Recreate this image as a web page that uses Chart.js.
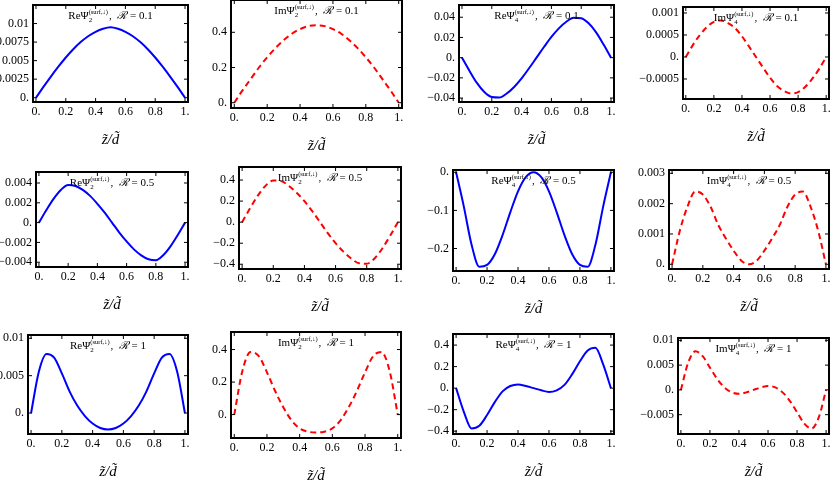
<!DOCTYPE html>
<html>
<head>
<meta charset="utf-8">
<script src="https://cdn.jsdelivr.net/npm/chart.js@4.4.0/dist/chart.umd.min.js"></script>
<style>
  html, body { margin: 0; padding: 0; background: #fff; width: 830px; height: 481px; overflow: hidden; position: relative; }
  canvas { position: absolute; }
</style>
</head>
<body>
<script>
// z/d grid shared by every panel
const zGrid = [0, 0.05, 0.1, 0.15, 0.2, 0.25, 0.3, 0.35, 0.4, 0.45, 0.5,
  0.55, 0.6, 0.65, 0.7, 0.75, 0.8, 0.85, 0.9, 0.95, 1];
const xTicks = [0, 0.2, 0.4, 0.6, 0.8, 1];
const xTickLabels = ["0.", "0.2", "0.4", "0.6", "0.8", "1."];

// R = 0.1
const reTwoLow = [0, 0.00145, 0.00285, 0.00418, 0.00542, 0.00653, 0.0075, 0.00829, 0.00889, 0.0093, 0.0095,
  0.0093, 0.00889, 0.00829, 0.0075, 0.00653, 0.00542, 0.00418, 0.00285, 0.00145, 0];
const imTwoLow = [0, 0.07, 0.135, 0.2, 0.258, 0.31, 0.355, 0.392, 0.418, 0.435, 0.44,
  0.435, 0.418, 0.392, 0.355, 0.31, 0.258, 0.2, 0.135, 0.07, 0];
const reFourLow = [0, -0.013, -0.025, -0.034, -0.039, -0.0395, -0.0355, -0.029, -0.0205, -0.0105, 0,
  0.0105, 0.0205, 0.029, 0.0355, 0.0395, 0.039, 0.034, 0.025, 0.013, 0];
const imFourLow = [0, 0.00027, 0.0005, 0.00068, 0.0008, 0.00083, 0.00077, 0.00066, 0.00047, 0.00024, 0,
  -0.00024, -0.00047, -0.00066, -0.00077, -0.00083, -0.0008, -0.00068, -0.0005, -0.00027, 0];

// R = 0.5
const reTwoMid = [0, 0.00125, 0.0024, 0.0033, 0.0038, 0.0037, 0.0033, 0.0027, 0.0019, 0.001, 0,
  -0.001, -0.0019, -0.0027, -0.0033, -0.0037, -0.0038, -0.0033, -0.0024, -0.00125, 0];
const imTwoMid = [0, 0.13, 0.25, 0.345, 0.395, 0.39, 0.345, 0.28, 0.2, 0.105, 0,
  -0.105, -0.2, -0.28, -0.345, -0.39, -0.395, -0.345, -0.25, -0.13, 0];
const reFourMid = [0, -0.09, -0.19, -0.248, -0.243, -0.215, -0.165, -0.105, -0.05, -0.013, 0,
  -0.013, -0.05, -0.105, -0.165, -0.215, -0.243, -0.248, -0.19, -0.09, 0];
const imFourMid = [0, 0.0011, 0.0019, 0.0024, 0.0023, 0.0019, 0.0013, 0.00085, 0.00045, 0.00012, 0,
  0.00012, 0.00045, 0.00085, 0.0013, 0.0019, 0.0023, 0.0024, 0.0019, 0.0011, 0];

// R = 1
const reTwoHigh = [0, 0.0055, 0.0079, 0.0074, 0.0053, 0.0029, 0.001, -0.0004, -0.0014, -0.002, -0.0022,
  -0.002, -0.0014, -0.0004, 0.001, 0.0029, 0.0053, 0.0074, 0.0079, 0.0055, 0];
const imTwoHigh = [0, 0.27, 0.385, 0.36, 0.26, 0.145, 0.045, -0.035, -0.085, -0.105, -0.11,
  -0.105, -0.085, -0.035, 0.045, 0.145, 0.26, 0.36, 0.385, 0.27, 0];
const reFourHigh = [0, -0.22, -0.375, -0.35, -0.25, -0.13, -0.03, 0.02, 0.035, 0.02, 0,
  -0.02, -0.035, -0.02, 0.03, 0.13, 0.25, 0.35, 0.375, 0.22, 0];
const imFourHigh = [0, 0.0055, 0.0078, 0.0068, 0.0045, 0.0022, 0.0005, -0.0005, -0.0008, -0.0005, 0,
  0.0005, 0.0008, 0.0005, -0.0005, -0.0022, -0.0045, -0.0068, -0.0078, -0.0055, 0];

// y ticks per panel
const ticksA = [0, 0.0025, 0.005, 0.0075, 0.01];
const labelsA = ["0.", "0.0025", "0.005", "0.0075", "0.01"];
const ticksB = [0, 0.2, 0.4];
const labelsB = ["0.", "0.2", "0.4"];
const ticksC = [-0.04, -0.02, 0, 0.02, 0.04];
const labelsC = ["\u22120.04", "\u22120.02", "0.", "0.02", "0.04"];
const ticksD = [-0.0005, 0, 0.0005, 0.001];
const labelsD = ["\u22120.0005", "0.", "0.0005", "0.001"];
const ticksE = [-0.004, -0.002, 0, 0.002, 0.004];
const labelsE = ["\u22120.004", "\u22120.002", "0.", "0.002", "0.004"];
const ticksF = [-0.4, -0.2, 0, 0.2, 0.4];
const labelsF = ["\u22120.4", "\u22120.2", "0.", "0.2", "0.4"];
const ticksG = [-0.2, -0.1, 0];
const labelsG = ["\u22120.2", "\u22120.1", "0."];
const ticksH = [0, 0.001, 0.002, 0.003];
const labelsH = ["0.", "0.001", "0.002", "0.003"];
const ticksI = [0, 0.005, 0.01];
const labelsI = ["0.", "0.005", "0.01"];
const ticksJ = [-0.005, 0, 0.005, 0.01];
const labelsJ = ["\u22120.005", "0.", "0.005", "0.01"];

const BLUE = "#0000ff";
const RED = "#ff0000";
const YW = 70, XH = 50, PAD_T = 8, PAD_R = 10;
const SERIF = "'Liberation Serif', 'DejaVu Serif', serif";

// frame box [left, top, right, bottom] and y range of each panel
const panels = [
  { part: "Re", n: "2", r: "0.1", data: reTwoLow, box: [33, 5, 188, 102], yr: [-0.00058, 0.0125], yt: ticksA, yl: labelsA },
  { part: "Im", n: "2", r: "0.1", data: imTwoLow, box: [231, 0, 402, 108], yr: [-0.03, 0.5835], yt: ticksB, yl: labelsB },
  { part: "Re", n: "4", r: "0.1", data: reFourLow, box: [459, 5, 614, 102], yr: [-0.0439, 0.0521], yt: ticksC, yl: labelsC },
  { part: "Im", n: "4", r: "0.1", data: imFourLow, box: [683, 7, 829, 99], yr: [-0.000955, 0.001136], yt: ticksD, yl: labelsD },
  { part: "Re", n: "2", r: "0.5", data: reTwoMid, box: [36, 172, 188, 267], yr: [-0.00448, 0.00511], yt: ticksE, yl: labelsE },
  { part: "Im", n: "2", r: "0.5", data: imTwoMid, box: [239, 167, 401, 269], yr: [-0.445, 0.524], yt: ticksF, yl: labelsF },
  { part: "Re", n: "4", r: "0.5", data: reFourMid, box: [453, 170, 614, 271], yr: [-0.259, 0.006], yt: ticksG, yl: labelsG },
  { part: "Im", n: "4", r: "0.5", data: imFourMid, box: [669, 170, 829, 269], yr: [-0.000155, 0.00311], yt: ticksH, yl: labelsH },
  { part: "Re", n: "2", r: "1", data: reTwoHigh, box: [28, 335, 188, 434], yr: [-0.0028, 0.01044], yt: ticksI, yl: labelsI },
  { part: "Im", n: "2", r: "1", data: imTwoHigh, box: [231, 332, 401, 438], yr: [-0.144, 0.508], yt: ticksB, yl: labelsB },
  { part: "Re", n: "4", r: "1", data: reFourHigh, box: [453, 334, 614, 434], yr: [-0.426, 0.503], yt: ticksF, yl: labelsF },
  { part: "Im", n: "4", r: "1", data: imFourHigh, box: [678, 338, 829, 434], yr: [-0.0089, 0.01047], yt: ticksJ, yl: labelsJ },
];

function drawPanelTitle(ctx, area, p) {
  const main = "11px " + SERIF;
  const small = "7px " + SERIF;
  const tiny = "6.5px " + SERIF;
  const head = p.part + "\u03A8";
  const tail = ",  ";
  const rest = " = " + p.r;
  ctx.font = main;
  const wHead = ctx.measureText(head).width;
  const wTail = ctx.measureText(tail).width;
  const wRest = ctx.measureText(rest).width;
  ctx.font = "italic " + main;
  const wR = ctx.measureText("\u211B").width;
  ctx.font = tiny;
  const wSup = ctx.measureText("(surf,\u2193)").width;
  const total = wHead + wSup + 1 + wTail + wR + wRest;
  let x = (area.left + area.right) / 2 - total / 2;
  const y = area.top + 14;
  ctx.fillStyle = "#000";
  ctx.textAlign = "left";
  ctx.textBaseline = "alphabetic";
  ctx.font = main;
  ctx.fillText(head, x, y);
  x += wHead;
  ctx.font = small;
  ctx.fillText(p.n, x, y + 3);
  ctx.font = tiny;
  ctx.fillText("(surf,\u2193)", x, y - 5);
  x += wSup + 1;
  ctx.font = main;
  ctx.fillText(tail, x, y);
  x += wTail;
  ctx.font = "italic " + main;
  ctx.fillText("\u211B", x, y);
  x += wR;
  ctx.font = main;
  ctx.fillText(rest, x, y);
}

const framePlugin = {
  id: "frame",
  afterDatasetsDraw(chart, args, opts) {
    const { ctx, chartArea: a, scales: { x, y } } = chart;
    const p = opts.panel;
    ctx.save();
    ctx.strokeStyle = "#000";
    ctx.lineWidth = 1;
    ctx.beginPath();
    xTicks.forEach((v) => {
      const px = x.getPixelForValue(v);
      ctx.moveTo(px, a.bottom); ctx.lineTo(px, a.bottom - 4);
      ctx.moveTo(px, a.top); ctx.lineTo(px, a.top + 4);
    });
    p.yt.forEach((v) => {
      const py = y.getPixelForValue(v);
      ctx.moveTo(a.left, py); ctx.lineTo(a.left + 4, py);
      ctx.moveTo(a.right, py); ctx.lineTo(a.right - 4, py);
    });
    ctx.stroke();
    ctx.lineWidth = 2;
    ctx.strokeRect(a.left, a.top, a.right - a.left, a.bottom - a.top);
    drawPanelTitle(ctx, a, p);
    ctx.restore();
  },
};

panels.forEach((p) => {
  const [L, T, R, B] = p.box;
  const canvas = document.createElement("canvas");
  const w = R - L + YW + PAD_R;
  const h = B - T + PAD_T + XH;
  canvas.width = w;
  canvas.height = h;
  canvas.style.left = (L - YW) + "px";
  canvas.style.top = (T - PAD_T) + "px";
  canvas.style.width = w + "px";
  canvas.style.height = h + "px";
  document.body.appendChild(canvas);

  const isIm = p.part === "Im";
  new Chart(canvas.getContext("2d"), {
    type: "line",
    data: {
      datasets: [
        {
          data: zGrid.map((z, i) => ({ x: z, y: p.data[i] })),
          borderColor: isIm ? RED : BLUE,
          borderWidth: 2,
          borderDash: isIm ? [6, 4] : [],
          pointRadius: 0,
          cubicInterpolationMode: "monotone",
          fill: false,
        },
      ],
    },
    options: {
      responsive: false,
      animation: false,
      devicePixelRatio: 1,
      layout: { padding: { left: 0, top: PAD_T, right: PAD_R, bottom: 0 } },
      plugins: { legend: { display: false }, tooltip: { enabled: false }, frame: { panel: p } },
      scales: {
        x: {
          type: "linear",
          min: -0.02,
          max: 1.02,
          afterBuildTicks: (s) => { s.ticks = xTicks.map((v) => ({ value: v })); },
          afterFit: (s) => { s.height = XH; s.paddingLeft = 0; s.paddingRight = 0; },
          grid: { display: false, drawTicks: false },
          border: { display: false },
          ticks: {
            padding: 3,
            color: "#000",
            font: { family: SERIF, size: 12 },
            maxRotation: 0,
            autoSkip: false,
            callback: (v, i) => xTickLabels[i],
          },
          title: {
            display: true,
            text: "z\u0303/d\u0303",
            color: "#000",
            font: { family: SERIF, size: 15, style: "italic" },
            padding: { top: 0, bottom: 3 },
          },
        },
        y: {
          type: "linear",
          min: p.yr[0],
          max: p.yr[1],
          afterBuildTicks: (s) => { s.ticks = p.yt.map((v) => ({ value: v })); },
          afterFit: (s) => { s.width = YW; s.paddingTop = 0; s.paddingBottom = 0; },
          grid: { display: false, drawTicks: false },
          border: { display: false },
          ticks: {
            padding: 4,
            color: "#000",
            font: { family: SERIF, size: 12 },
            autoSkip: false,
            callback: (v, i) => p.yl[i],
          },
        },
      },
    },
    plugins: [framePlugin],
  });
});
</script>
</body>
</html>
